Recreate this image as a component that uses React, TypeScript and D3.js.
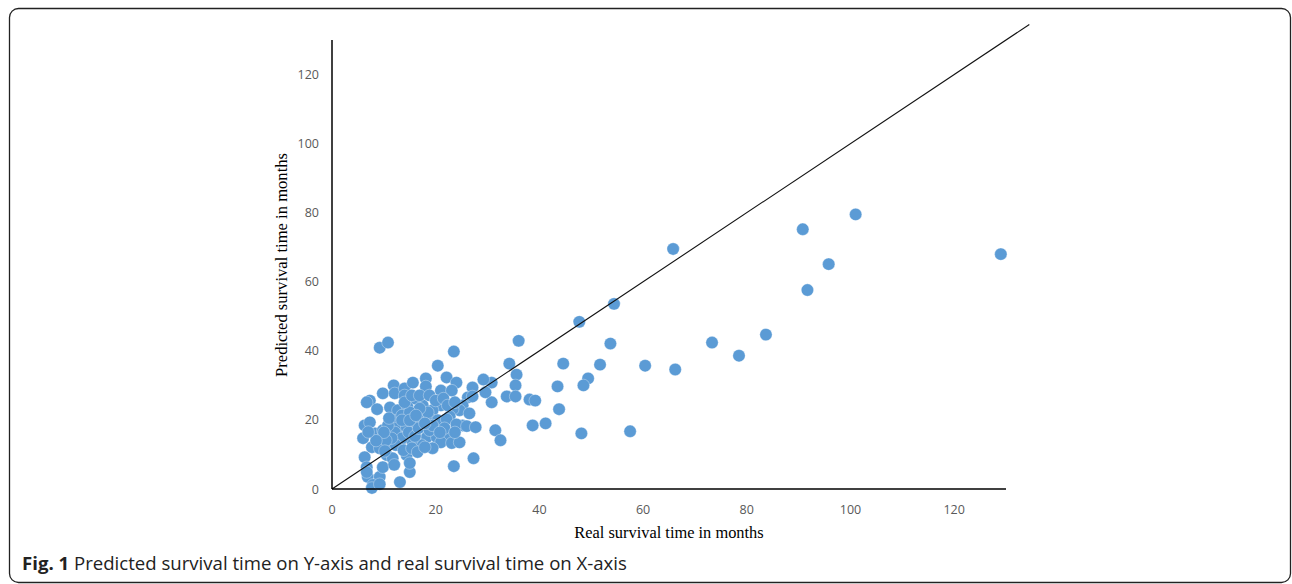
import React from 'react';
import * as d3 from 'd3';

// real survival time (months) for each patient
const realMonths = [
  129, 101, 90.8, 95.8, 91.7, 65.8, 54.4, 47.7, 53.7, 83.7, 73.3, 78.5, 51.7, 60.4, 66.2, 49.4, 48.5, 48.1, 57.5,
  36.0, 34.2, 35.6, 35.4, 33.7, 35.4, 38.1, 39.2, 44.6, 43.5, 43.8, 41.2, 38.7, 31.5, 32.5, 30.8, 30.8,
  23.5, 20.4, 18.1, 22.1, 24.0, 18.1, 21.0, 23.1, 29.2, 29.6, 27.1, 26.2, 27.1, 25.2, 24.6, 23.3, 22.7, 21.0,
  19.4, 17.5, 17.9, 16.9, 18.8, 20.4, 22.1, 26.5, 25.2, 24.0, 26.0, 27.7, 18.3, 20.2, 22.1, 21.0, 23.1, 24.6,
  19.4, 17.3, 27.3, 23.5,
  9.2, 10.8, 7.3, 6.7, 9.8, 8.7, 11.9, 12.1, 14.0, 15.6, 16.0, 14.0, 11.2, 12.7, 14.6, 6.3, 7.3, 6.0, 8.3, 9.8,
  11.7, 13.5, 12.5, 14.4, 16.3, 6.3, 7.7, 9.2, 11.2, 13.1, 15.4, 10.6, 14.4, 6.7, 6.9, 9.2, 7.9, 13.1, 15.0,
  15.0, 9.8, 11.7, 7.7, 9.2, 6.7,
  12.1, 13.5, 14.8, 16.0, 16.7, 12.3, 13.8, 15.4, 16.5, 17.9, 18.8, 19.4, 18.5, 16.9, 15.0, 13.5, 11.5, 10.4,
  10.8, 10.0, 15.0, 16.2, 17.9, 14.0, 15.4, 16.9, 18.8, 20.0, 21.5, 22.3, 23.7, 21.7, 20.8, 23.7,
  8.5, 10.2, 12.0, 7.0, 11.0
];

// predicted survival time (months), same order
const predictedMonths = [
  68, 79.5, 75.2, 65.1, 57.6, 69.5, 53.6, 48.4, 42.1, 44.7, 42.4, 38.6, 36.0, 35.7, 34.6, 32.0, 30.0, 16.1, 16.7,
  42.9, 36.3, 33.1, 30.0, 26.8, 26.8, 25.9, 25.6, 36.3, 29.7, 23.1, 19.0, 18.4, 17.0, 14.1, 25.1, 30.8,
  39.8, 35.7, 32.0, 32.3, 30.8, 29.7, 28.5, 28.5, 31.7, 28.0, 29.4, 26.5, 26.8, 24.2, 22.8, 23.1, 21.0, 24.2,
  22.8, 24.2, 21.9, 19.9, 20.5, 19.9, 20.2, 21.9, 18.4, 18.7, 18.2, 17.9, 15.0, 15.0, 14.7, 13.5, 13.3, 13.5,
  11.8, 12.7, 8.9, 6.6,
  40.9, 42.4, 25.6, 25.1, 27.7, 23.1, 30.0, 27.7, 29.1, 30.8, 26.2, 27.1, 23.6, 22.8, 23.6, 18.4, 19.3, 14.7, 16.1, 17.0,
  19.9, 21.3, 17.6, 17.9, 19.0, 9.2, 12.1, 11.8, 13.3, 13.5, 14.1, 9.8, 9.8, 6.3, 3.5, 3.5, 1.2, 2.0, 4.9,
  7.5, 6.3, 8.9, 0.3, 1.4, 4.9,
  16.4, 14.7, 16.4, 15.3, 17.6, 12.7, 11.2, 11.8, 10.7, 12.1, 17.0, 18.4, 22.2, 23.3, 22.2, 19.9, 14.7, 14.1,
  18.4, 16.4, 19.9, 21.3, 19.0, 25.1, 27.1, 27.1, 27.1, 25.6, 26.2, 24.2, 25.1, 17.6, 16.4, 16.4,
  14.0, 11.0, 7.0, 16.5, 20.5
];

const tickValues = [0, 20, 40, 60, 80, 100, 120];
const axisMax = 130;
const diagonalEnd = 134.5;

const tickFont = '"Open Sans", sans-serif';
const serif = '"Liberation Serif", "Times New Roman", serif';

export default function App() {
  const width = 1292;
  const height = 584;

  const x = d3.scaleLinear().domain([0, axisMax]).range([332, 1006]);
  const y = d3.scaleLinear().domain([0, axisMax]).range([489, 40]);

  const points = realMonths.map((r, i) => ({ r, p: predictedMonths[i] }));

  const diag = d3.line<number>()
    .x(d => x(d))
    .y(d => y(d));

  return (
    <svg width={width} height={height}
      style={{ position: 'absolute', left: 0, top: 0, display: 'block', background: '#fff' }}>
      <rect x={9.5} y={8.5} width={1281} height={574} rx={9} fill="none" stroke="#222" strokeWidth={1.3} />

      {tickValues.map(t => (
        <text key={'x' + t} x={x(t)} y={514} textAnchor="middle"
          fontFamily={tickFont} fontSize={12.5} fill="#595959">{t}</text>
      ))}
      {tickValues.map(t => (
        <text key={'y' + t} x={319} y={y(t) + 4.5} textAnchor="end"
          fontFamily={tickFont} fontSize={12.5} fill="#595959">{t}</text>
      ))}

      {points.map((d, i) => (
        <circle key={i} cx={x(d.r)} cy={y(d.p)} r={6.2}
          fill="#5B9BD5" stroke="#ffffff" strokeOpacity={0.55} strokeWidth={0.6} />
      ))}

      <path d={diag([0, diagonalEnd]) || ''} stroke="#111" strokeWidth={1.1} fill="none" />

      <line x1={x(0)} x2={x(0)} y1={y(axisMax)} y2={y(0)} stroke="#000" strokeWidth={1.5} />
      <line x1={x(0)} x2={x(axisMax)} y1={y(0)} y2={y(0)} stroke="#000" strokeWidth={1.5} />

      <text x={669} y={538} textAnchor="middle" fontFamily={serif} fontSize={16.4} fill="#000">
        Real survival time in months
      </text>
      <text transform="translate(287,265) rotate(-90)" textAnchor="middle"
        fontFamily={serif} fontSize={16.6} fill="#000">
        Predicted survival time in months
      </text>

      <text x={22} y={570} fontFamily={tickFont} fontSize={18.6} fill="#222">
        <tspan fontWeight="bold">Fig. 1</tspan>
        <tspan> Predicted survival time on Y-axis and real survival time on X-axis</tspan>
      </text>
    </svg>
  );
}
